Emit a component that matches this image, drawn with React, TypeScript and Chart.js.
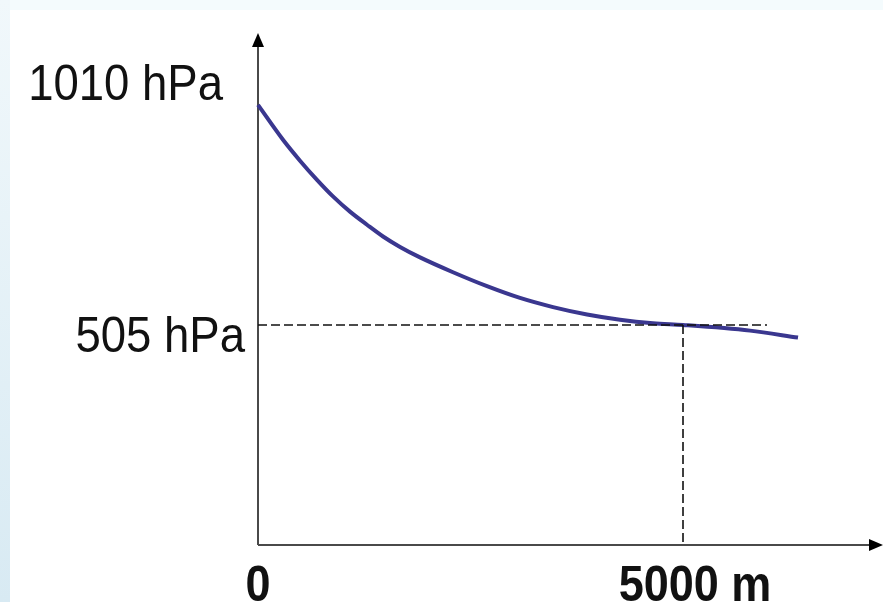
import React, { useEffect, useRef } from "react";
import { Chart, registerables } from "chart.js";

Chart.register(...registerables);

// Height above sea level (m) and pressure (hPa)
const heightsM = [0, 294, 494, 694, 882, 1082, 1282, 1471, 1671, 1906, 2294, 2694, 3082, 3471, 3871, 4259, 4647, 5000, 5788, 6353];
const pressureHPa = [1010, 930, 882, 838, 800, 765, 735, 708, 684, 660, 626, 594, 567, 546, 529, 517, 509, 505, 492, 476];

// Reference (dashed) guide at 5000 m / 505 hPa
const guideHeightM = 5000;
const guidePressureHPa = 505;
const guideEndM = 5988;

// Tick labels
const yTickValues = [1010, 505];
const yTickLabels = ["1010 hPa", "505 hPa"];
const xTickValues = [0, 5000];
const xTickLabels = ["0", "5000 m"];

const X_MAX = 7294;
const Y_MAX = 1175;

export default function App() {
  const ref = useRef<HTMLCanvasElement | null>(null);

  useEffect(() => {
    if (!ref.current) return;

    const axesPlugin = {
      id: "arrowAxes",
      beforeDatasetsDraw(chart: any) {
        const { ctx, chartArea } = chart;
        const x0 = chart.scales.x.getPixelForValue(0);
        const y0 = chart.scales.y.getPixelForValue(0);
        ctx.save();
        ctx.strokeStyle = "#4a4a4a";
        ctx.lineWidth = 2;
        ctx.beginPath();
        ctx.moveTo(x0, y0);
        ctx.lineTo(x0, chartArea.top + 8);
        ctx.moveTo(x0, y0);
        ctx.lineTo(chartArea.right - 2, y0);
        ctx.stroke();
        ctx.fillStyle = "#000";
        ctx.beginPath();
        ctx.moveTo(x0, chartArea.top);
        ctx.lineTo(x0 - 6, chartArea.top + 14);
        ctx.lineTo(x0 + 6, chartArea.top + 14);
        ctx.closePath();
        ctx.fill();
        const tipX = chart.width;
        ctx.beginPath();
        ctx.moveTo(tipX, y0);
        ctx.lineTo(tipX - 14, y0 - 6);
        ctx.lineTo(tipX - 14, y0 + 6);
        ctx.closePath();
        ctx.fill();
        ctx.restore();
      },
      afterDraw(chart: any) {
        const { ctx } = chart;
        const xs = chart.scales.x;
        const ys = chart.scales.y;
        const x0 = xs.getPixelForValue(0);
        const y0 = ys.getPixelForValue(0);
        const yRightGap = [35, 13];
        const yBaseNudge = [-5, 27];
        const xCenterNudge = [0, 12];
        ctx.save();
        ctx.fillStyle = "#111";
        ctx.font = "50px 'Liberation Sans', Arial, sans-serif";
        ctx.textAlign = "right";
        ctx.textBaseline = "alphabetic";
        yTickValues.forEach((v, i) => {
          ctx.save();
          ctx.translate(x0 - yRightGap[i], ys.getPixelForValue(v) + yBaseNudge[i]);
          ctx.scale(0.91, 1);
          ctx.fillText(yTickLabels[i], 0, 0);
          ctx.restore();
        });
        ctx.font = "bold 50px 'Liberation Sans', Arial, sans-serif";
        ctx.textAlign = "center";
        xTickValues.forEach((v, i) => {
          ctx.save();
          ctx.translate(xs.getPixelForValue(v) + xCenterNudge[i], y0 + 56);
          ctx.scale(0.9, 1);
          ctx.fillText(xTickLabels[i], 0, 0);
          ctx.restore();
        });
        ctx.restore();
      },
    };

    const chart = new Chart(ref.current, {
      type: "scatter",
      data: {
        datasets: [
          {
            data: [
              { x: 0, y: guidePressureHPa },
              { x: guideEndM, y: guidePressureHPa },
            ],
            showLine: true,
            borderColor: "#111",
            borderWidth: 1.6,
            borderDash: [9, 4],
            pointRadius: 0,
            clip: false,
          } as any,
          {
            data: [
              { x: guideHeightM, y: guidePressureHPa },
              { x: guideHeightM, y: 0 },
            ],
            showLine: true,
            borderColor: "#111",
            borderWidth: 1.6,
            borderDash: [9, 4],
            pointRadius: 0,
            clip: false,
          } as any,
          {
            data: heightsM.map((h, i) => ({ x: h, y: pressureHPa[i] })),
            showLine: true,
            borderColor: "#3a378f",
            borderWidth: 4,
            cubicInterpolationMode: "monotone",
            pointRadius: 0,
            clip: false,
          } as any,
        ],
      },
      options: {
        animation: false,
        responsive: false,
        devicePixelRatio: 1,
        layout: { padding: { left: 258, right: 5, top: 33, bottom: 57 } },
        plugins: { legend: { display: false }, tooltip: { enabled: false } },
        scales: {
          x: { type: "linear", min: 0, max: X_MAX, display: false },
          y: { type: "linear", min: 0, max: Y_MAX, display: false },
        },
      },
      plugins: [axesPlugin],
    });
    return () => chart.destroy();
  }, []);

  return (
    <div
      style={{
        position: "fixed",
        left: 0,
        top: 0,
        width: 883,
        height: 602,
        background: "#ffffff",
        overflow: "hidden",
      }}
    >
      <div style={{ position: "absolute", left: 0, top: 0, width: 883, height: 10, background: "#f4fbfd" }} />
      <div
        style={{
          position: "absolute",
          left: 0,
          top: 0,
          width: 10,
          height: 602,
          background: "linear-gradient(#f1f8fb, #d8eaf3)",
        }}
      />
      <canvas ref={ref} width={883} height={602} style={{ position: "absolute", left: 0, top: 0 }} />
    </div>
  );
}
